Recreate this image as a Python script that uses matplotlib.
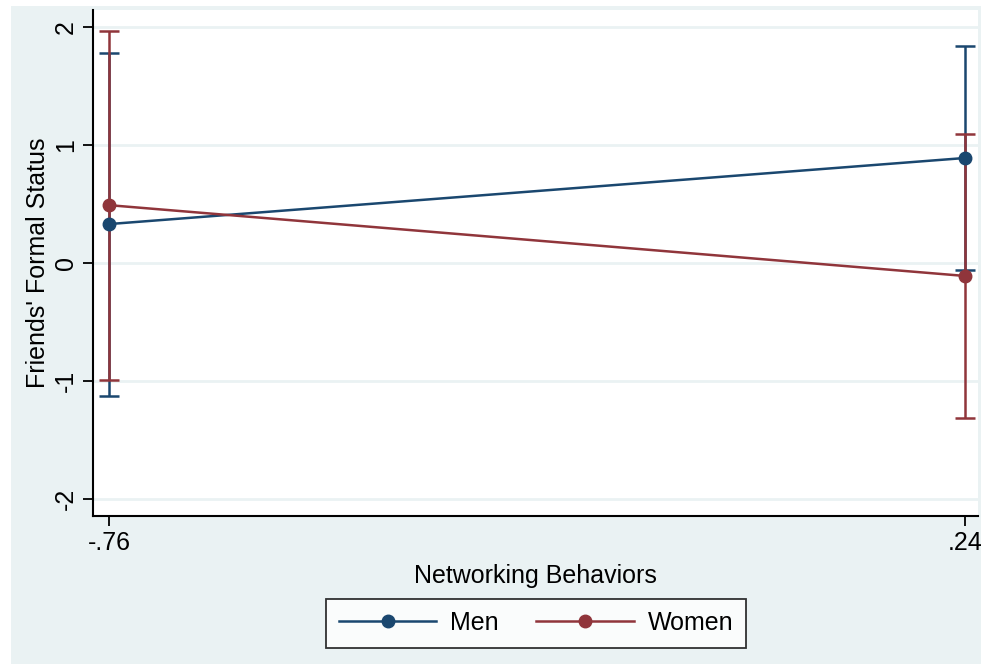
import matplotlib

matplotlib.use("Agg")
import matplotlib.pyplot as plt
from matplotlib.patches import Rectangle

plt.rcParams["font.family"] = ["Liberation Sans", "DejaVu Sans"]

# Predicted margins at low / high networking behaviors
x_levels = [-0.76, 0.24]
x_labels = ["-.76", ".24"]

men_est = [0.33, 0.89]
men_lo = [-1.13, -0.06]
men_hi = [1.78, 1.84]

women_est = [0.49, -0.11]
women_lo = [-0.99, -1.31]
women_hi = [1.97, 1.09]

y_ticks = [-2, -1, 0, 1, 2]

NAVY = "#1a476f"
MAROON = "#90353b"
BG = "#eaf2f3"
FS = 18

W, H = 981, 664
fig = plt.figure(figsize=(W / 100, H / 100), dpi=100)
fig.patch.set_facecolor("white")
fig.add_artist(Rectangle((11 / W, 0), 1 - 11 / W, (H - 6) / H,
                         transform=fig.transFigure, facecolor=BG,
                         edgecolor="none", zorder=-10))

ax = fig.add_axes([93 / W, (H - 516) / H, (978 - 93) / W, (516 - 10) / H])
ax.set_facecolor("white")

series = [
    ("Men", men_est, men_lo, men_hi, NAVY),
    ("Women", women_est, women_lo, women_hi, MAROON),
]

# confidence intervals first, then the connected point estimates on top
for name, est, lo, hi, color in series:
    yerr = [[e - l for e, l in zip(est, lo)], [h - e for e, h in zip(est, hi)]]
    ax.errorbar(x_levels, est, yerr=yerr, fmt="none", ecolor=color,
                elinewidth=1.8, capsize=7, capthick=1.8, zorder=2)
for name, est, lo, hi, color in series:
    ax.plot(x_levels, est, color=color, lw=1.8, marker="o", ms=9,
            label=name, zorder=3)

ax.set_xlim(-0.779, 0.255)
ax.set_ylim(-2.144, 2.144)
ax.set_xticks(x_levels)
ax.set_xticklabels(x_labels)
ax.set_yticks(y_ticks)
ax.set_yticklabels([str(t) for t in y_ticks], rotation=90, va="center")
ax.tick_params(axis="both", length=7, width=1.3, labelsize=FS, pad=4)

ax.grid(axis="y", color=BG, lw=2)
ax.set_axisbelow(True)
for side in ("top", "right"):
    ax.spines[side].set_visible(False)
for side in ("left", "bottom"):
    ax.spines[side].set_linewidth(1.5)

ax.set_xlabel("Networking Behaviors", fontsize=FS, labelpad=6)
ax.set_ylabel("Friends' Formal Status", fontsize=FS, labelpad=2.5)

leg = ax.legend(loc="center", bbox_to_anchor=(536 / W, (H - 623) / H),
                bbox_transform=fig.transFigure, ncol=2, fontsize=FS,
                frameon=True, fancybox=False, edgecolor="black",
                handlelength=3.9, columnspacing=1.5, handletextpad=0.55,
                borderpad=0.5, borderaxespad=0)
leg.get_frame().set_linewidth(1.3)

fig.savefig("out.png", dpi=100)
